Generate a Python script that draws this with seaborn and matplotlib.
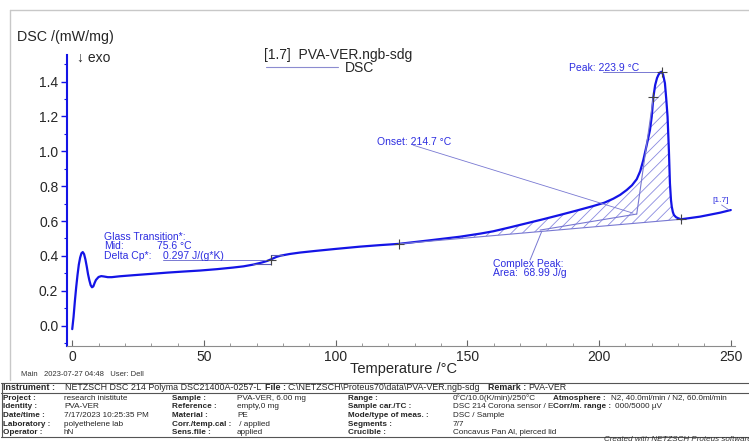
import numpy as np
import pandas as pd
import matplotlib
matplotlib.use("Agg")
import matplotlib.pyplot as plt
import seaborn as sns

# ---------------- data ----------------
temp_c = [0.0, 0.5, 1.0, 1.5, 2.0, 2.5, 3.0, 3.5, 4.0, 4.5, 5.0, 5.5, 6.0, 6.5, 7.0,
          7.5, 8.0, 8.5, 9.0, 10.0, 11.0, 12.0, 13.5, 15.0, 18.0, 23.0, 30.0, 36.0,
          42.0, 48.5, 55.0, 61.0, 65.0, 68.7, 72.0, 74.0, 75.6, 77.5, 79.0, 82.6,
          86.4, 92.0, 100.0, 109.2, 117.0, 124.0, 135.0, 147.2, 155.0, 159.8, 166.0,
          172.5, 179.0, 185.2, 191.0, 197.8, 202.0, 205.4, 208.0, 210.5, 212.5,
          214.3, 215.6, 216.8, 218.0, 219.3, 220.0, 220.6, 221.3, 222.0, 222.6,
          223.2, 223.7, 224.3, 225.0, 225.5, 226.0, 226.5, 226.9, 227.3, 227.6,
          228.0, 228.4, 229.2, 230.0, 231.1, 234.0, 238.3, 242.0, 246.0, 250.0]
dsc_mw_mg = [-0.02, 0.05, 0.14, 0.22, 0.29, 0.35, 0.39, 0.415, 0.422, 0.41, 0.38, 0.34,
             0.295, 0.26, 0.232, 0.22, 0.225, 0.245, 0.262, 0.279, 0.284, 0.282, 0.278,
             0.278, 0.283, 0.289, 0.297, 0.304, 0.31, 0.316, 0.324, 0.333, 0.34, 0.35,
             0.362, 0.371, 0.381, 0.394, 0.401, 0.411, 0.419, 0.428, 0.44, 0.453, 0.462,
             0.469, 0.488, 0.51, 0.528, 0.541, 0.563, 0.587, 0.611, 0.635, 0.658, 0.686,
             0.705, 0.728, 0.75, 0.778, 0.805, 0.84, 0.885, 0.95, 1.03, 1.12, 1.2, 1.31,
             1.38, 1.42, 1.44, 1.452, 1.456, 1.44, 1.39, 1.30, 1.198, 1.007, 0.816, 0.72,
             0.682, 0.652, 0.635, 0.622, 0.616, 0.61, 0.616, 0.625, 0.636, 0.648, 0.663]

x_ticks = [0, 50, 100, 150, 200, 250]
y_ticks = [0.0, 0.2, 0.4, 0.6, 0.8, 1.0, 1.2, 1.4]

# evaluation results
peak_start = (124.0, 0.469)
peak_end = (231.1, 0.610)
peak_top = (223.7, 1.456)
inflection = (220.6, 1.31)
onset_pt = (214.3, 0.640)
gt_mid = (75.6, 0.378)

# ---------------- styling ----------------
sns.set_theme(style="white")
plt.rcParams["font.family"] = ["Liberation Sans", "DejaVu Sans"]
plt.rcParams["hatch.linewidth"] = 0.6

W, H = 749, 441
fig = plt.figure(figsize=(W / 100, H / 100), dpi=100)
fig.patch.set_facecolor("white")


def fx(px):
    return px / W


def fy(py):
    return 1 - py / H


ax = fig.add_axes([fx(66.7), fy(345.7), fx(735) - fx(66.7), fy(55) - fy(345.7)])
ax.set_facecolor("white")

BLUE = "#1414e6"
ANN = "#2d2de0"
LIGHT = "#7878d2"

df = pd.DataFrame({"T": temp_c, "DSC": dsc_mw_mg})
sns.lineplot(data=df, x="T", y="DSC", ax=ax, color=BLUE, linewidth=1.6,
             sort=False, estimator=None)

# hatched peak area
mask = (df["T"] >= peak_start[0]) & (df["T"] <= peak_end[0])
xs = df.loc[mask, "T"].values
ys = df.loc[mask, "DSC"].values
base = np.interp(xs, [peak_start[0], peak_end[0]], [peak_start[1], peak_end[1]])
ax.fill_between(xs, ys, base, facecolor="none", edgecolor="#8a8ae0", hatch="///",
                linewidth=0)
ax.plot([peak_start[0], peak_end[0]], [peak_start[1], peak_end[1]], color=LIGHT, lw=0.8)

# onset construction
ax.plot([177.6, onset_pt[0]], [0.548, onset_pt[1]], color=LIGHT, lw=0.8)
ax.plot([onset_pt[0], inflection[0]], [onset_pt[1], inflection[1]], color=LIGHT, lw=0.8)
ax.plot([129.4, 212.9], [1.035, 0.645], color=LIGHT, lw=0.6)
# peak leader
ax.plot([201.6, peak_top[0]], [peak_top[1], peak_top[1]], color=LIGHT, lw=0.7)
# complex peak leader
ax.plot([173.8, 178.2], [0.376, 0.539], color=LIGHT, lw=0.7)
# glass transition construction
ax.plot([34.4, 75.6], [0.375, 0.375], color=LIGHT, lw=0.7)
ax.plot([68.6, 75.6, 75.6, 80.0], [0.352, 0.352, 0.405, 0.405], color="#5a5ab8", lw=0.8)
# curve id leader
ax.plot([246.5, 249.4], [0.692, 0.663], color=LIGHT, lw=0.6)

# plus markers
for (mx, my) in [peak_start, peak_end, peak_top, inflection, gt_mid]:
    ax.plot(mx, my, marker="+", color="#444444", markersize=7, mew=0.8)

# annotations
akw = dict(color=ANN, fontsize=7.5, ha="left", va="center")
ax.text(12.0, 0.509, "Glass Transition*:", **akw)
ax.text(12.0, 0.455, "Mid:", **akw)
ax.text(32.2, 0.455, "75.6 °C", **akw)
ax.text(12.0, 0.402, "Delta Cp*:", **akw)
ax.text(34.4, 0.402, "0.297 J/(g*K)", **akw)
ax.text(115.7, 1.055, "Onset: 214.7 °C", **akw)
ax.text(188.6, 1.478, "Peak: 223.9 °C", **akw)
ax.text(159.6, 0.354, "Complex Peak:", **akw)
ax.text(159.6, 0.302, "Area:  68.99 J/g", **akw)
ax.text(243.2, 0.717, "[1.7]", color=ANN, fontsize=6, ha="left", va="center")

# axes
ax.set_xlim(-2.1, 251.6)
ax.set_ylim(-0.115, 1.552)
ax.set_xticks(x_ticks)
ax.set_xticks(np.arange(0, 251, 10), minor=True)
ax.set_yticks(y_ticks)
ax.set_yticks(np.arange(-0.1, 1.55, 0.1), minor=True)
ax.set_xticklabels([str(v) for v in x_ticks])
ax.set_yticklabels([f"{v:.1f}" for v in y_ticks])
ax.set_xlabel("")
ax.set_ylabel("")
for s in ["top", "right"]:
    ax.spines[s].set_visible(False)
ax.spines["left"].set_color(BLUE)
ax.spines["left"].set_linewidth(1.5)
ax.spines["bottom"].set_color("#8c8c8c")
ax.spines["bottom"].set_linewidth(0.8)
ax.tick_params(axis="y", which="major", direction="out", length=4, width=1,
               color=BLUE, labelsize=10, pad=2, left=True)
ax.tick_params(axis="y", which="minor", direction="out", length=2.5, width=0.8,
               color=BLUE, left=True)
ax.tick_params(axis="x", which="major", direction="in", length=4, width=0.8,
               color="#666666", labelsize=10, pad=3, bottom=True)
ax.tick_params(axis="x", which="minor", direction="in", length=2, width=0.6,
               color="#888888", bottom=True)

# figure-level texts
fig.text(fx(17), fy(37), "DSC /(mW/mg)", fontsize=10.3, ha="left", va="center")
fig.text(fx(77), fy(58), "↓ exo", fontsize=10, ha="left", va="center",
         family=["Liberation Sans", "DejaVu Sans"])
fig.text(fx(264), fy(55), "[1.7]  PVA-VER.ngb-sdg", fontsize=10, ha="left", va="center")
fig.add_artist(plt.Line2D([fx(266), fx(338)], [fy(67), fy(67)], color="#8c8cd0", lw=0.8))
fig.text(fx(345), fy(68), "DSC", fontsize=10, ha="left", va="center")
fig.text(fx(403), fy(369), "Temperature /°C", fontsize=10.5, ha="center", va="center")
fig.text(fx(21), fy(375), "Main   2023-07-27 04:48   User: Dell", fontsize=5.5,
         ha="left", va="center", color="#333333")

# outer frame
fig.add_artist(plt.Line2D([fx(10), fx(749)], [fy(10), fy(10)], color="#c8c8c8", lw=1))
fig.add_artist(plt.Line2D([fx(10), fx(10)], [fy(10), fy(380)], color="#c8c8c8", lw=1))

# info table
tb = dict(fontsize=5.9, ha="left", va="center")
tb1 = dict(fontsize=6.4, ha="left", va="center")
LC = "#555555"
fig.add_artist(plt.Line2D([fx(1), fx(749)], [fy(382.5), fy(382.5)], color=LC, lw=0.8))
fig.add_artist(plt.Line2D([fx(1), fx(749)], [fy(393), fy(393)], color=LC, lw=0.8))
fig.add_artist(plt.Line2D([fx(1), fx(749)], [fy(436.5), fy(436.5)], color=LC, lw=0.8))
fig.add_artist(plt.Line2D([fx(1.5), fx(1.5)], [fy(382.5), fy(436.5)], color=LC, lw=0.8))

fig.text(fx(3), fy(388), "Instrument :", weight="bold", **tb1)
fig.text(fx(65), fy(388), "NETZSCH DSC 214 Polyma DSC21400A-0257-L", **tb1)
fig.text(fx(265), fy(388), "File :", weight="bold", **tb1)
fig.text(fx(287), fy(388), "C:\\NETZSCH\\Proteus70\\data\\PVA-VER.ngb-sdg", **tb1)
fig.text(fx(488), fy(388), "Remark :", weight="bold", **tb1)
fig.text(fx(528), fy(388), "PVA-VER", **tb1)

row_y = [398, 406.8, 415.6, 424.4, 433]
col1 = [("Project :", "research inistitute"), ("Identity :", "PVA-VER"),
        ("Date/time :", "7/17/2023 10:25:35 PM"), ("Laboratory :", "polyethelene lab"),
        ("Operator :", "hN")]
col2 = [("Sample :", "PVA-VER, 6.00 mg"), ("Reference :", "empty,0 mg"),
        ("Material :", "PE"), ("Corr./temp.cal :", " / applied"), ("Sens.file :", "applied")]
col3 = [("Range :", "0°C/10.0(K/min)/250°C"), ("Sample car./TC :", "DSC 214 Corona sensor / E"),
        ("Mode/type of meas. :", "DSC / Sample"), ("Segments :", "7/7"),
        ("Crucible :", "Concavus Pan Al, pierced lid")]
for i, yy in enumerate(row_y):
    fig.text(fx(3), fy(yy), col1[i][0], weight="bold", **tb)
    fig.text(fx(64), fy(yy), col1[i][1], **tb)
    fig.text(fx(172), fy(yy), col2[i][0], weight="bold", **tb)
    fig.text(fx(237), fy(yy), col2[i][1], **tb)
    fig.text(fx(348), fy(yy), col3[i][0], weight="bold", **tb)
    fig.text(fx(453), fy(yy), col3[i][1], **tb)
fig.text(fx(553), fy(row_y[0]), "Atmosphere :", weight="bold", **tb)
fig.text(fx(611), fy(row_y[0]), "N2, 40.0ml/min / N2, 60.0ml/min", **tb)
fig.text(fx(553), fy(row_y[1]), "Corr/m. range :", weight="bold", **tb)
fig.text(fx(615), fy(row_y[1]), "000/5000 µV", **tb)
fig.text(fx(752), fy(439.8), "Created with NETZSCH Proteus software", fontsize=5.8,
         style="italic", ha="right", va="center", color="#333333")

fig.savefig("out.png", dpi=100, facecolor="white")
